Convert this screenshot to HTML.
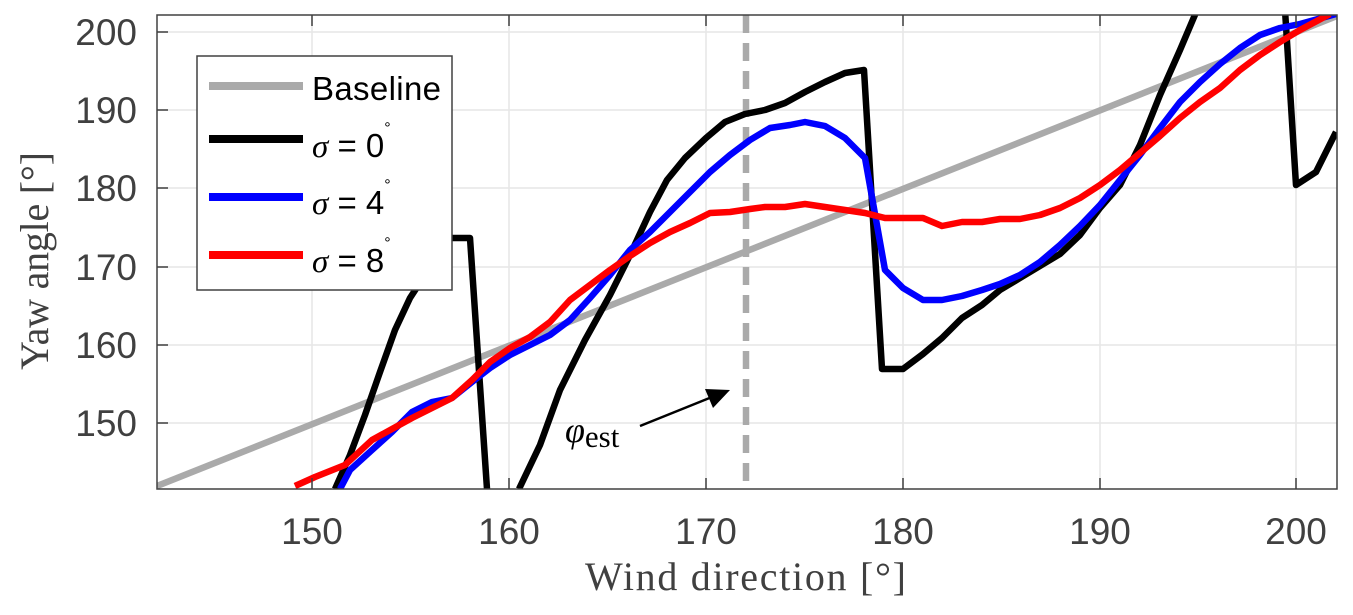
<!DOCTYPE html>
<html><head><style>body{margin:0;background:#fff}svg{display:block}</style></head><body>
<svg width="1353" height="615" viewBox="0 0 1353 615" xmlns="http://www.w3.org/2000/svg">
<defs><clipPath id="c"><rect x="157" y="15" width="1180" height="474"/></clipPath></defs>
<g stroke="#e6e6e6" stroke-width="1.5">
<line x1="312" y1="15" x2="312" y2="489"/><line x1="509" y1="15" x2="509" y2="489"/><line x1="706" y1="15" x2="706" y2="489"/><line x1="903" y1="15" x2="903" y2="489"/><line x1="1100" y1="15" x2="1100" y2="489"/><line x1="1296" y1="15" x2="1296" y2="489"/>
<line x1="157" y1="32" x2="1337" y2="32"/><line x1="157" y1="110" x2="1337" y2="110"/><line x1="157" y1="188" x2="1337" y2="188"/><line x1="157" y1="267" x2="1337" y2="267"/><line x1="157" y1="345" x2="1337" y2="345"/><line x1="157" y1="423" x2="1337" y2="423"/>
</g>
<g clip-path="url(#c)" fill="none" stroke-width="6.5" stroke-linejoin="round">
<line x1="157" y1="486" x2="1337" y2="16" stroke="#aaaaaa"/>
<line x1="746" y1="15" x2="746" y2="489" stroke="#aaaaaa" stroke-dasharray="18,10"/>
<polyline stroke="#000" points="335,489 350,455 365,415 380,372 395,330 410,298 425,275 440,238 470,238 487,489"/>
<polyline stroke="#000" points="519,489 540,445 560,390 585,340 610,295 630,255 650,212 667,180 685,158 706,138 725,122 745,114 765,110 785,103 805,92 825,82 845,73 864,70 882,369 903,369 923,354 942,338 962,318 982,305 1000,290 1020,278 1040,266 1060,254 1080,235 1100,208 1120,185 1140,145 1160,95 1180,50 1197,10"/>
<polyline stroke="#000" points="1285,10 1296,185 1316,172 1336,132"/>
<polyline stroke="#0000ff" points="340,489 350,470 372,450 392,432 412,412 432,402 452,398 472,382 490,368 510,355 530,345 550,335 570,320 590,298 610,275 630,250 650,232 670,212 690,192 710,172 730,155 750,140 770,128 790,125 805,122 825,126 845,138 865,158 885,270 903,288 923,300 942,300 962,296 982,290 1000,284 1020,275 1040,262 1060,245 1080,226 1100,205 1120,180 1140,155 1160,128 1180,102 1200,82 1220,64 1240,48 1260,35 1280,28 1300,24 1336,14"/>
<polyline stroke="#ff0000" points="295,486 315,477 345,465 372,440 412,418 452,398 472,380 490,362 510,348 530,337 550,322 570,300 590,285 610,270 630,256 650,243 670,232 690,223 710,213 730,212 750,209 765,207 785,207 805,204 825,207 845,210 865,213 885,218 903,218 923,218 942,226 962,222 982,222 1000,219 1020,219 1040,215 1060,208 1080,198 1100,185 1120,170 1140,153 1160,136 1180,118 1200,102 1220,88 1240,70 1260,55 1280,42 1300,30 1330,14"/>
</g>
<rect x="157" y="15" width="1180" height="474" fill="none" stroke="#404040" stroke-width="1.5"/>
<g stroke="#404040" stroke-width="1.5">
<line x1="312" y1="489" x2="312" y2="478"/><line x1="509" y1="489" x2="509" y2="478"/><line x1="706" y1="489" x2="706" y2="478"/><line x1="903" y1="489" x2="903" y2="478"/><line x1="1100" y1="489" x2="1100" y2="478"/><line x1="1296" y1="489" x2="1296" y2="478"/>
<line x1="312" y1="15" x2="312" y2="26"/><line x1="509" y1="15" x2="509" y2="26"/><line x1="706" y1="15" x2="706" y2="26"/><line x1="903" y1="15" x2="903" y2="26"/><line x1="1100" y1="15" x2="1100" y2="26"/><line x1="1296" y1="15" x2="1296" y2="26"/>
<line x1="157" y1="32" x2="168" y2="32"/><line x1="157" y1="110" x2="168" y2="110"/><line x1="157" y1="188" x2="168" y2="188"/><line x1="157" y1="267" x2="168" y2="267"/><line x1="157" y1="345" x2="168" y2="345"/><line x1="157" y1="423" x2="168" y2="423"/>
</g>
<g font-family="Liberation Sans, sans-serif" font-size="37" fill="#404040" text-anchor="middle">
<text x="312" y="544">150</text><text x="509" y="544">160</text><text x="706" y="544">170</text><text x="903" y="544">180</text><text x="1100" y="544">190</text><text x="1296" y="544">200</text>
</g>
<g font-family="Liberation Sans, sans-serif" font-size="37" fill="#404040" text-anchor="end">
<text x="137" y="45">200</text><text x="137" y="123">190</text><text x="137" y="201">180</text><text x="137" y="280">170</text><text x="137" y="358">160</text><text x="137" y="436">150</text>
</g>
<text x="585" y="590" textLength="321" font-family="Liberation Serif, serif" font-size="40" fill="#404040">Wind direction [°]</text>
<text transform="translate(48,370) rotate(-90)" textLength="218" font-family="Liberation Serif, serif" font-size="40" fill="#404040">Yaw angle [°]</text>
<text x="565" y="442" font-family="Liberation Serif, serif" font-size="36" font-style="italic" fill="#000">φ<tspan font-style="normal" font-size="31" dy="5">est</tspan></text>
<line x1="640" y1="426" x2="712" y2="397" stroke="#000" stroke-width="2.5"/>
<polygon points="730,390 705,389 713,408" fill="#000"/>
<rect x="197" y="56" width="255" height="234" fill="#fff" stroke="#404040" stroke-width="1.5"/>
<g stroke-width="8">
<line x1="209" y1="86" x2="303" y2="86" stroke="#aaaaaa"/>
<line x1="209" y1="139" x2="303" y2="139" stroke="#000"/>
<line x1="209" y1="197" x2="303" y2="197" stroke="#0000ff"/>
<line x1="209" y1="255" x2="303" y2="255" stroke="#ff0000"/>
</g>
<g font-family="Liberation Sans, sans-serif" font-size="33" fill="#000">
<text x="312" y="100" textLength="129">Baseline</text>
<text x="312" y="157"><tspan font-family="Liberation Serif, serif" font-style="italic">σ</tspan> = 0<tspan font-size="16" dy="-24">°</tspan></text>
<text x="312" y="214"><tspan font-family="Liberation Serif, serif" font-style="italic">σ</tspan> = 4<tspan font-size="16" dy="-24">°</tspan></text>
<text x="312" y="272"><tspan font-family="Liberation Serif, serif" font-style="italic">σ</tspan> = 8<tspan font-size="16" dy="-24">°</tspan></text>
</g>
</svg>
</body></html>
